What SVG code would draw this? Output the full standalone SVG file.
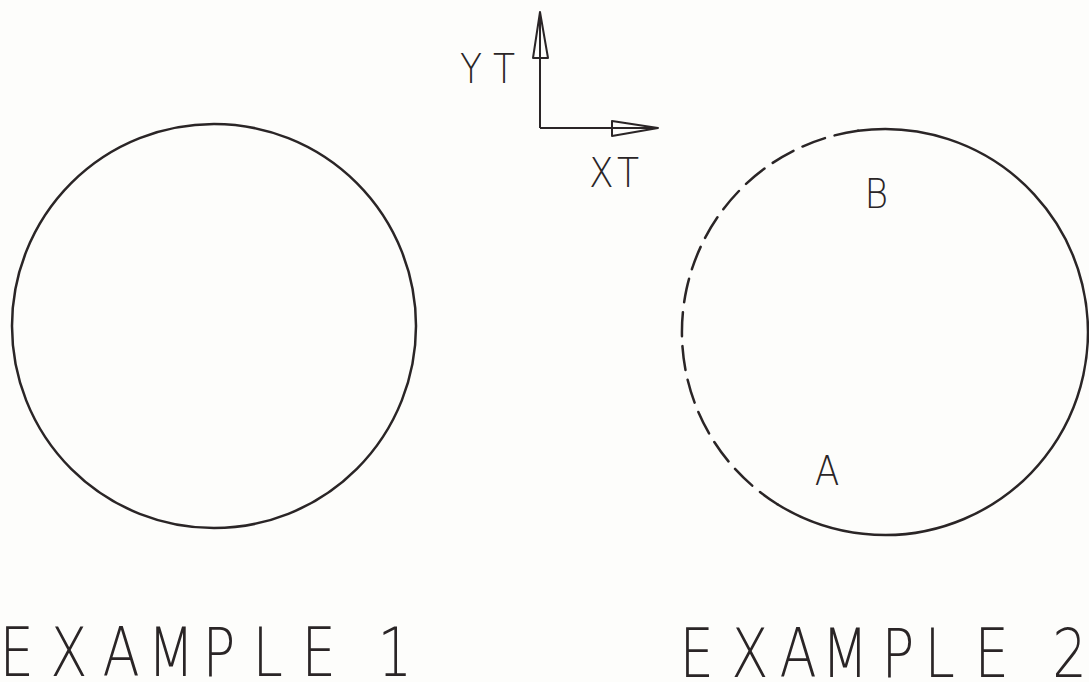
<svg xmlns="http://www.w3.org/2000/svg" width="1089" height="682" viewBox="0 0 1089 682">
<style>
.ln{fill:none;stroke:#2a2526;stroke-width:2.5;stroke-linecap:round;stroke-linejoin:round}
.ax{fill:none;stroke:#2a2526;stroke-width:2;stroke-linejoin:round}
.dash{stroke-dasharray:24 10}
.t{font-family:"DejaVu Sans","Liberation Sans",sans-serif;font-weight:200;fill:#2a2526}
.big{font-size:68px}
.sm{font-size:41px}
</style>
<rect width="1089" height="682" fill="#fdfdfb"/>
<g id="example1">
<circle class="ln" cx="214" cy="326" r="202"/>
</g>
<g id="example2">
<path class="ln" d="M 858.1 130.8 A 203 203 0 1 1 777.4 504.2"/>
<path class="ln dash" d="M 858.1 130.8 A 203 203 0 0 0 777.4 504.2"/>
<text class="t sm" transform="scale(0.88 1)" x="982.4" y="208">B</text>
<text class="t sm" transform="scale(0.88 1)" x="925.8" y="485">A</text>
</g>
<g id="connectors">
<g id="axis-y">
<line class="ax" x1="540" y1="128" x2="540" y2="12"/>
<polygon class="ax" points="540,12 533,58 548,58"/>
</g>
<g id="axis-x">
<line class="ax" x1="540" y1="128" x2="658" y2="128"/>
<polygon class="ax" points="658,128 612,121 612,136"/>
</g>
</g>
<g id="axis-labels">
<text class="t sm" transform="scale(0.88 1)" x="522.7 560.2" y="83">YT</text>
<text class="t sm" transform="scale(0.88 1)" x="669.2 701.1" y="187">XT</text>
</g>
<g id="captions">
<text class="t big" transform="scale(0.8 1)" x="-0.5 62.9 128.2 184.5 253.2 315.7 377 430 472" y="676">EXAMPLE 1</text>
<text class="t big" transform="scale(0.8 1)" x="849.5 914.2 974.5 1027 1102 1155.7 1218.2 1270 1315.3" y="677">EXAMPLE 2</text>
</g>
</svg>
